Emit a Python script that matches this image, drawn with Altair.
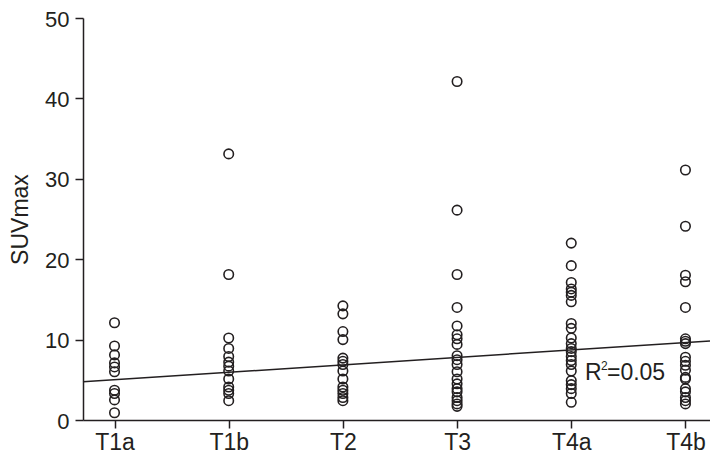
import altair as alt
import pandas as pd

categories = ["T1a", "T1b", "T2", "T3", "T4a", "T4b"]

t1a = [12.1, 9.2, 8.1, 7.1, 6.6, 6.0, 3.7, 3.3, 2.5, 0.9]
t1b = [33.1, 18.1, 10.2, 8.9, 7.9, 7.2, 6.7, 6.1, 5.1, 4.1, 3.7, 3.3, 2.4]
t2 = [14.2, 13.2, 11.0, 10.0, 7.7, 7.3, 6.9, 6.1, 5.1, 4.1, 3.7, 3.3, 2.8, 2.4]
t3 = [42.1, 26.1, 18.1, 14.0, 11.7, 10.6, 10.1, 9.4, 8.0, 7.5, 6.9, 6.0,
      5.1, 4.5, 3.9, 3.5, 2.8, 2.4, 2.0, 1.7]
t4a = [22.0, 19.2, 17.1, 16.3, 15.9, 15.5, 14.7, 12.0, 11.4, 10.2, 9.5, 8.9,
       8.5, 7.9, 7.4, 6.9, 6.1, 4.9, 4.4, 3.9, 3.3, 2.2]
t4b = [31.1, 24.1, 18.0, 17.2, 14.0, 10.1, 9.8, 9.5, 7.8, 7.3, 6.8, 6.2,
       5.3, 5.1, 3.9, 3.5, 2.8, 2.4, 2.0]

series = [t1a, t1b, t2, t3, t4a, t4b]

# fitted line (category index 1..6)
fit_intercept = 4.08
fit_slope = 0.926
r2_label = "0.05"

y_ticks = [0, 10, 20, 30, 40, 50]
x_domain = [0.724, 6.215]

rows = []
for i, (cat, vals) in enumerate(zip(categories, series)):
    for v in vals:
        rows.append({"idx": i + 1, "cat": cat, "suv": v})
df = pd.DataFrame(rows)

line_df = pd.DataFrame({
    "idx": x_domain,
    "suv": [fit_intercept + fit_slope * x for x in x_domain],
})

txt_df = pd.DataFrame({"idx": [5.12], "suv": [4.93]})

FONT = "Liberation Sans"
INK = "#231f20"
H = 402

label_expr = "[" + ",".join("'%s'" % c for c in categories) + "][datum.value - 1]"

xscale = alt.Scale(domain=x_domain, nice=False, zero=False)
yscale = alt.Scale(domain=[0, 50], nice=False)

x_axis = alt.Axis(values=[1, 2, 3, 4, 5, 6], labelExpr=label_expr, title=None,
                  grid=False, tickSize=8, labelFontSize=23, labelPadding=3,
                  labelFont=FONT, labelColor=INK, domainColor=INK, tickColor=INK,
                  domainWidth=1.5, tickWidth=1.5)
y_axis = alt.Axis(values=y_ticks, title="SUVmax", grid=False, tickSize=8,
                  labelFontSize=22, labelPadding=6, labelFont=FONT, labelColor=INK,
                  labelOffset=1, domainColor=INK, tickColor=INK, domainWidth=1.5,
                  tickWidth=1.5, titleFont=FONT, titleFontSize=23,
                  titleFontWeight="normal", titleColor=INK, titleAngle=270,
                  titleX=-56, titleY=H / 2, titleBaseline="alphabetic")

points = alt.Chart(df).mark_point(
    filled=False, color=INK, size=90, strokeWidth=1.6, opacity=1
).encode(
    x=alt.X("idx:Q", scale=xscale, axis=x_axis),
    y=alt.Y("suv:Q", scale=yscale, axis=y_axis),
)

fit = alt.Chart(line_df).mark_line(color=INK, strokeWidth=1.5).encode(
    x=alt.X("idx:Q", scale=xscale),
    y=alt.Y("suv:Q", scale=yscale),
)

base_txt = alt.Chart(txt_df).encode(
    x=alt.X("idx:Q", scale=xscale),
    y=alt.Y("suv:Q", scale=yscale),
)
t_r = base_txt.mark_text(text="R", align="left", baseline="alphabetic",
                         font=FONT, fontSize=23, color=INK)
t_2 = base_txt.mark_text(text="2", align="left", baseline="alphabetic",
                         font=FONT, fontSize=12, color=INK, dx=16, dy=-10)
t_v = base_txt.mark_text(text="=" + r2_label, align="left", baseline="alphabetic",
                         font=FONT, fontSize=23, color=INK, dx=22)

chart = alt.layer(points, fit, t_r, t_2, t_v).properties(
    width=627, height=H,
    autosize=alt.AutoSizeParams(type="none"),
    padding={"left": 75, "top": 10, "right": 0, "bottom": 37},
    background="white",
).configure_view(stroke=None)

chart.save("out.html", embed_options={"renderer": "svg", "actions": False})
